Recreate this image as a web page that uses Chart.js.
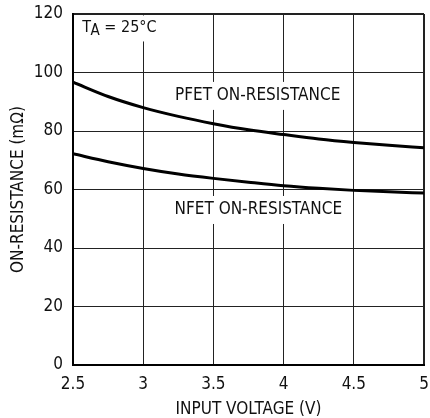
<!DOCTYPE html>
<html>
<head>
<meta charset="utf-8">
<script src="https://cdn.jsdelivr.net/npm/chart.js@4/dist/chart.umd.min.js"></script>
<style>
html,body{margin:0;padding:0;background:#fff;}
#wrap{width:430px;height:418px;position:relative;}
</style>
</head>
<body>
<div id="wrap"><canvas id="c" width="430" height="418"></canvas></div>
<script>
const inputVoltage = [2.5, 2.75, 3, 3.25, 3.5, 3.75, 4, 4.25, 4.5, 4.75, 5];
const pfetOnResistance = [96.7, 91.8, 88.0, 85.0, 82.5, 80.4, 78.8, 77.3, 76.1, 75.1, 74.3];
const nfetOnResistance = [72.2, 69.5, 67.2, 65.3, 63.8, 62.5, 61.3, 60.4, 59.7, 59.2, 58.8];
const xTickValues = [2.5, 3, 3.5, 4, 4.5, 5];
const yTickValues = [0, 20, 40, 60, 80, 100, 120];
const curveLabels = [
  {text: 'PFET ON-RESISTANCE', x: 3.815, y: 92.0},
  {text: 'NFET ON-RESISTANCE', x: 3.82, y: 53.0}
];
const tempLabel = {main: 'T', sub: 'A', rest: ' = 25°C', x: 2.566, y: 115.4};

const FONT = "'DejaVu Sans Condensed', 'Liberation Sans Narrow', sans-serif";
const FS = 17;
const INK = '#111';

const labelPlugin = {
  id: 'labels',
  beforeDatasetsDraw(chart) {
    const ctx = chart.ctx;
    const xs = chart.scales.x, ys = chart.scales.y;
    ctx.save();
    ctx.font = FS + 'px ' + FONT;
    ctx.textBaseline = 'middle';
    ctx.textAlign = 'center';
    curveLabels.forEach(l => {
      const cx = xs.getPixelForValue(l.x), cy = ys.getPixelForValue(l.y);
      const w = ctx.measureText(l.text).width;
      ctx.fillStyle = '#fff';
      ctx.fillRect(cx - w / 2 - 4, cy - 14, w + 8, 28);
      ctx.fillStyle = INK;
      ctx.fillText(l.text, cx, cy);
    });
    const tx = xs.getPixelForValue(tempLabel.x), ty = ys.getPixelForValue(tempLabel.y);
    ctx.textAlign = 'left';
    ctx.font = '16px ' + FONT;
    const wT = ctx.measureText(tempLabel.main).width;
    ctx.font = '15px ' + FONT;
    const wA = ctx.measureText(tempLabel.sub).width;
    ctx.font = '16px ' + FONT;
    const wR = ctx.measureText(tempLabel.rest).width;
    ctx.fillStyle = '#fff';
    ctx.fillRect(tx - 3, ty - 12, wT + wA + wR + 6, 26);
    ctx.fillStyle = INK;
    ctx.fillText(tempLabel.main, tx, ty);
    ctx.font = '15px ' + FONT;
    ctx.fillText(tempLabel.sub, tx + wT - 0.5, ty + 3.5);
    ctx.font = '16px ' + FONT;
    ctx.fillText(tempLabel.rest, tx + wT + wA - 0.5, ty);
    ctx.restore();
  }
};

new Chart(document.getElementById('c'), {
  type: 'line',
  data: {
    datasets: [
      {label: 'PFET', data: inputVoltage.map((v, i) => ({x: v, y: pfetOnResistance[i]})),
       borderColor: '#000', borderWidth: 3, pointRadius: 0, cubicInterpolationMode: 'monotone', fill: false},
      {label: 'NFET', data: inputVoltage.map((v, i) => ({x: v, y: nfetOnResistance[i]})),
       borderColor: '#000', borderWidth: 3, pointRadius: 0, cubicInterpolationMode: 'monotone', fill: false}
    ]
  },
  options: {
    responsive: false,
    animation: false,
    devicePixelRatio: 1,
    layout: {padding: {top: 14, right: 6, left: 0, bottom: 0}},
    plugins: {legend: {display: false}, tooltip: {enabled: false}},
    scales: {
      x: {
        type: 'linear', min: 2.5, max: 5,
        afterBuildTicks: s => { s.ticks = xTickValues.map(v => ({value: v})); },
        afterFit: s => { s.height = 53; s.paddingLeft = 0; s.paddingRight = 0; },
        ticks: {color: INK, font: {family: FONT, size: FS}, padding: 9, maxRotation: 0,
                callback: v => String(v)},
        grid: {color: '#222', drawTicks: false,
               lineWidth: c => (c.index === xTickValues.length - 1 ? 2 : 1)},
        border: {color: '#000', width: 2},
        title: {display: true, text: 'INPUT VOLTAGE (V)', color: INK,
                font: {family: FONT, size: FS}, padding: {top: 2, bottom: -2}}
      },
      y: {
        min: 0, max: 120,
        afterBuildTicks: s => { s.ticks = yTickValues.map(v => ({value: v})); },
        afterFit: s => { s.width = 73; s.paddingTop = 0; s.paddingBottom = 0; },
        ticks: {color: INK, font: {family: FONT, size: FS}, padding: 10, callback: v => String(v)},
        grid: {color: '#222', drawTicks: false,
               lineWidth: c => (c.index === yTickValues.length - 1 ? 2 : 1)},
        border: {color: '#000', width: 2},
        title: {display: true, text: 'ON-RESISTANCE (mΩ)', color: INK,
                font: {family: FONT, size: FS}, padding: {top: 8, bottom: 0}}
      }
    }
  },
  plugins: [labelPlugin]
});
</script>
</body>
</html>
